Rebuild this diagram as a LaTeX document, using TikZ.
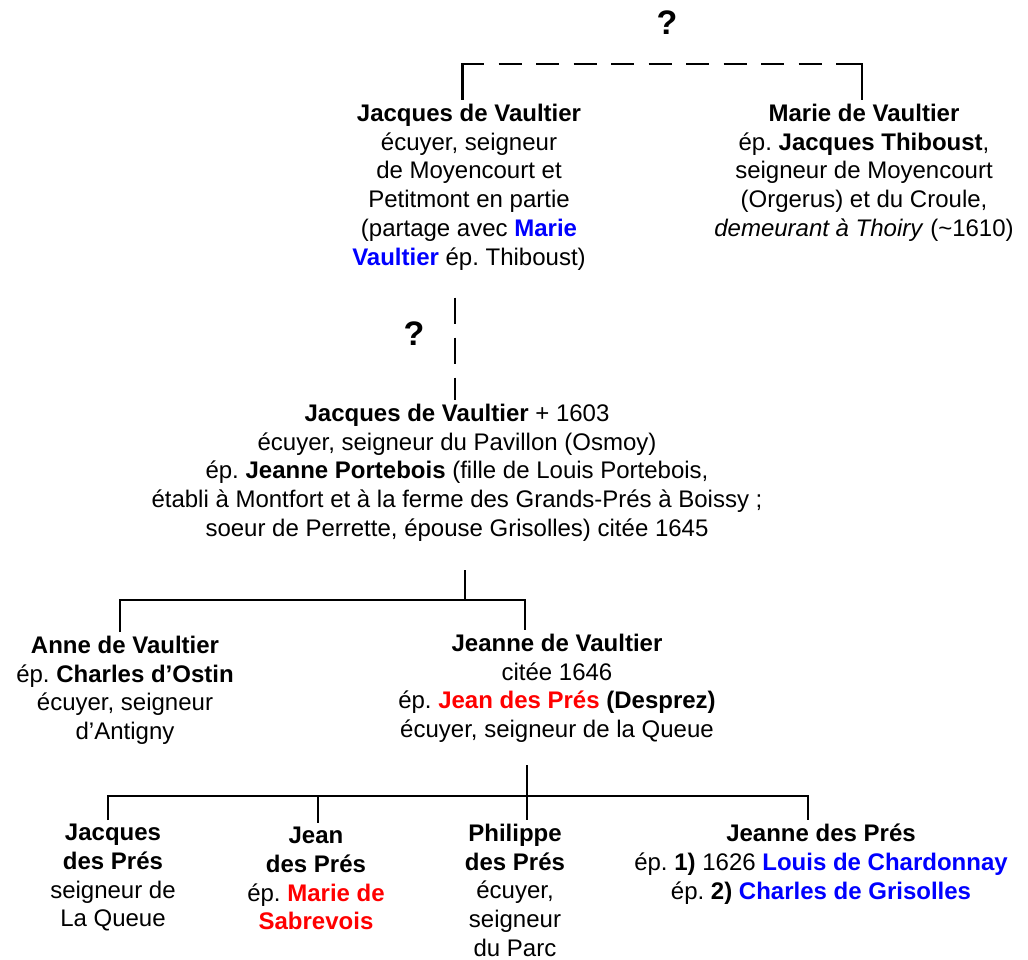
\documentclass[tikz,border=0pt]{standalone}
\usepackage{fontspec}
\setmainfont{Liberation Sans}
\frenchspacing
\definecolor{bleunom}{RGB}{0,0,255}
\definecolor{rougenom}{RGB}{255,0,0}
\begin{document}
\begin{tikzpicture}[x=1pt, y=-1pt,
    personne/.style={align=center, inner sep=0pt, outer xsep=0pt, outer ysep=4pt, anchor=north,
        font=\fontsize{24}{28.75}\selectfont},
    question/.style={inner sep=0pt, font=\fontsize{34}{40}\selectfont\bfseries},
    lien/.style={line width=2.6pt}]
    \useasboundingbox (0,0) rectangle (1028,960);

    % Parents inconnus
    \node[question] (q_haut) at (667,22.5) {?};
    \coordinate (l0) at (462.7,64);
    \coordinate (r0) at (862,64);

    % Premiere generation
    \node[personne] (jacques_vaultier1) at (469,100) {\textbf{Jacques de Vaultier}\\écuyer, seigneur\\de Moyencourt et\\Petitmont en partie\\(partage avec \textbf{\color{bleunom}Marie}\\\textbf{\color{bleunom}Vaultier} ép. Thiboust)};
    \node[personne] (marie_vaultier) at (864,100) {\textbf{Marie de Vaultier}\\ép. \textbf{Jacques Thiboust},\\seigneur de Moyencourt\\(Orgerus) et du Croule,\\\textit{demeurant à Thoiry} (\textasciitilde1610)};

    % Filiation incertaine
    \node[question] (q_milieu) at (414,334) {?};
    \coordinate (d1) at (455,297.7);

    % Deuxieme generation
    \node[personne] (jacques_vaultier2) at (457,400) {\textbf{Jacques de Vaultier} + 1603\\écuyer, seigneur du Pavillon (Osmoy)\\ép. \textbf{Jeanne Portebois} (fille de Louis Portebois,\\établi à Montfort et à la ferme des Grands-Prés à Boissy ;\\soeur de Perrette, épouse Grisolles) citée 1645};

    % Enfants de Jacques
    \coordinate (s2) at (465,570);
    \coordinate (m2) at (465,600);
    \coordinate (l2) at (120,600);
    \coordinate (r2) at (525,600);
    \node[personne] (anne_vaultier) at (125,632) {\textbf{Anne de Vaultier}\\ép. \textbf{Charles d’Ostin}\\écuyer, seigneur\\d’Antigny};
    \node[personne] (jeanne_vaultier) at (557,630) {\textbf{Jeanne de Vaultier}\\citée 1646\\ép. \textbf{\color{rougenom}Jean des Prés} \textbf{(Desprez)}\\écuyer, seigneur de la Queue};

    % Enfants de Jeanne
    \coordinate (s3) at (527,765);
    \coordinate (m3) at (527,796);
    \coordinate (l3) at (108,796);
    \coordinate (k3) at (318,796);
    \coordinate (r3) at (808,796);
    \node[personne] (jacques_pres) at (113,820) {\textbf{Jacques}\\\textbf{des Prés}\\seigneur de\\La Queue};
    \node[personne] (jean_pres) at (316,823) {\textbf{Jean}\\\textbf{des Prés}\\ép. \textbf{\color{rougenom}Marie de}\\\textbf{\color{rougenom}Sabrevois}};
    \node[personne] (philippe_pres) at (515,820) {\textbf{Philippe}\\\textbf{des Prés}\\écuyer,\\seigneur\\du Parc};
    \node[personne] (jeanne_pres) at (821,820) {\textbf{Jeanne des Prés}\\ép. \textbf{1)} 1626 \textbf{\color{bleunom}Louis de Chardonnay}\\ép. \textbf{2) \color{bleunom}Charles de Grisolles}};

    % Liens pointilles
    \draw[lien, dash pattern=on 57pt off 15pt on 23pt off 14.5pt on 23pt off 14.5pt on 23pt off 14.5pt
        on 23pt off 14.5pt on 23pt off 14.5pt on 23pt off 14.5pt on 23pt off 14.5pt on 23pt off 14.5pt
        on 23pt off 14.5pt on 62pt off 100pt]
        (jacques_vaultier1.north -| l0) -- (l0) -- (r0) -- (marie_vaultier.north -| r0);
    \draw[lien, dash pattern=on 26.6pt off 13.4pt] (d1) -- (jacques_vaultier2.north -| d1);

    % Liens pleins
    \draw[lien] (s2) -- (m2);
    \draw[lien] (anne_vaultier.north -| l2) -- (l2) -- (r2) -- (jeanne_vaultier.north -| r2);
    \draw[lien] (s3) -- (philippe_pres.north -| s3);
    \draw[lien] (jacques_pres.north -| l3) -- (l3) -- (r3) -- (jeanne_pres.north -| r3);
    \draw[lien] (k3) -- (jean_pres.north -| k3);

\end{tikzpicture}
\end{document}
